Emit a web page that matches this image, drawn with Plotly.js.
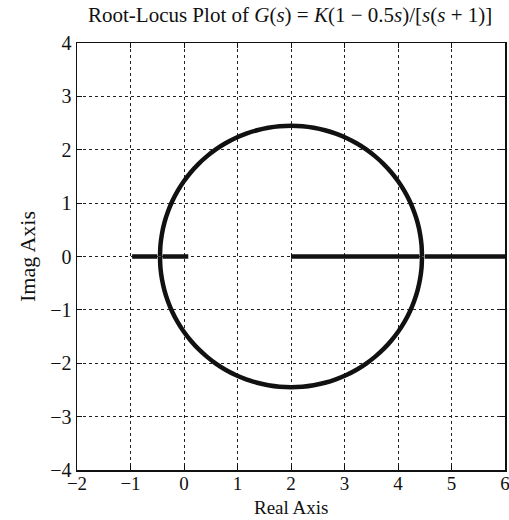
<!DOCTYPE html>
<html><head><meta charset="utf-8">
<script src="https://cdn.plot.ly/plotly-3.0.1.min.js"></script>
<style>html,body{margin:0;padding:0;background:#fff;}#chart{width:509px;height:520px;}</style>
</head><body><div id="chart"></div>
<script>
// Root locus: circle branches (upper and lower)
const branchReal = [4.449, 4.440, 4.412, 4.366, 4.301, 4.220, 4.121, 4.006, 3.876, 3.732, 3.574, 3.405, 3.225, 3.035, 2.838, 2.634, 2.425, 2.214, 2.000,
                    1.786, 1.575, 1.366, 1.162, 0.965, 0.775, 0.595, 0.426, 0.268, 0.124, -0.006, -0.121, -0.220, -0.301, -0.366, -0.412, -0.440, -0.449];
const upperImag = [0.000, 0.214, 0.425, 0.634, 0.838, 1.035, 1.225, 1.405, 1.574, 1.732, 1.876, 2.006, 2.121, 2.220, 2.301, 2.366, 2.412, 2.440, 2.449,
                   2.440, 2.412, 2.366, 2.301, 2.220, 2.121, 2.006, 1.876, 1.732, 1.574, 1.405, 1.225, 1.035, 0.838, 0.634, 0.425, 0.214, 0.000];
const lowerImag = [0.000, -0.214, -0.425, -0.634, -0.838, -1.035, -1.225, -1.405, -1.574, -1.732, -1.876, -2.006, -2.121, -2.220, -2.301, -2.366, -2.412, -2.440, -2.449,
                   -2.440, -2.412, -2.366, -2.301, -2.220, -2.121, -2.006, -1.876, -1.732, -1.574, -1.405, -1.225, -1.035, -0.838, -0.634, -0.425, -0.214, 0.000];
// Real-axis segments of the locus [start, end]
const segStart = [-0.97, -0.40, 2.00, 4.50];
const segEnd   = [-0.50,  0.08, 4.40, 6.00];
const xTicks = [-2, -1, 0, 1, 2, 3, 4, 5, 6];
const yTicks = [-4, -3, -2, -1, 0, 1, 2, 3, 4];
const tickText = v => v < 0 ? '\u2212' + Math.abs(v) : String(v);

const lineStyle = {color: '#111', width: 4.5};
const traces = [
  {x: branchReal, y: upperImag, mode: 'lines', line: Object.assign({shape: 'spline', smoothing: 0.6}, lineStyle), hoverinfo: 'skip'},
  {x: branchReal, y: lowerImag, mode: 'lines', line: Object.assign({shape: 'spline', smoothing: 0.6}, lineStyle), hoverinfo: 'skip'}
];
segStart.forEach((s, i) => traces.push({x: [s, segEnd[i]], y: [0, 0], mode: 'lines', line: lineStyle, hoverinfo: 'skip'}));

const font = {family: 'Liberation Serif, Times New Roman, serif', size: 20, color: '#111'};
const axisBase = {
  showgrid: true, gridcolor: '#222', griddash: 'dot', gridwidth: 1,
  zeroline: false, showline: true, linecolor: '#111', linewidth: 1.5, mirror: 'ticks',
  ticks: 'inside', ticklen: 5, tickcolor: '#111', tickfont: font, ticklabeloverflow: 'allow'
};
const layout = {
  width: 509, height: 520,
  margin: {l: 77, r: 4, t: 43, b: 50},
  paper_bgcolor: '#fff', plot_bgcolor: '#fff',
  showlegend: false, font: font,
  title: {text: 'Root-Locus Plot of <i>G</i>(<i>s</i>) = <i>K</i>(1 \u2212 0.5<i>s</i>)/[<i>s</i>(<i>s</i> + 1)]',
          font: Object.assign({}, font, {size: 21}), x: 0.57, xanchor: 'center', y: 0.972, yanchor: 'middle'},
  xaxis: Object.assign({}, axisBase, {range: [-2, 6], tickvals: xTicks, ticktext: xTicks.map(tickText), automargin: false,
          ticklabelstandoff: -4, tickfont: Object.assign({}, font, {size: 19}), title: {text: ''}}),
  yaxis: Object.assign({}, axisBase, {range: [-4, 4], tickvals: yTicks, ticktext: yTicks.map(tickText), automargin: false,
          title: {text: 'Imag Axis', font: Object.assign({}, font, {size: 22}), standoff: 8}}),
  annotations: [{text: 'Real Axis', xref: 'paper', yref: 'paper', x: 0.5, y: -0.088, xanchor: 'center', yanchor: 'middle',
                 showarrow: false, font: Object.assign({}, font, {size: 19})}]
};
Plotly.newPlot('chart', traces, layout, {staticPlot: true, displayModeBar: false});
</script></body></html>
